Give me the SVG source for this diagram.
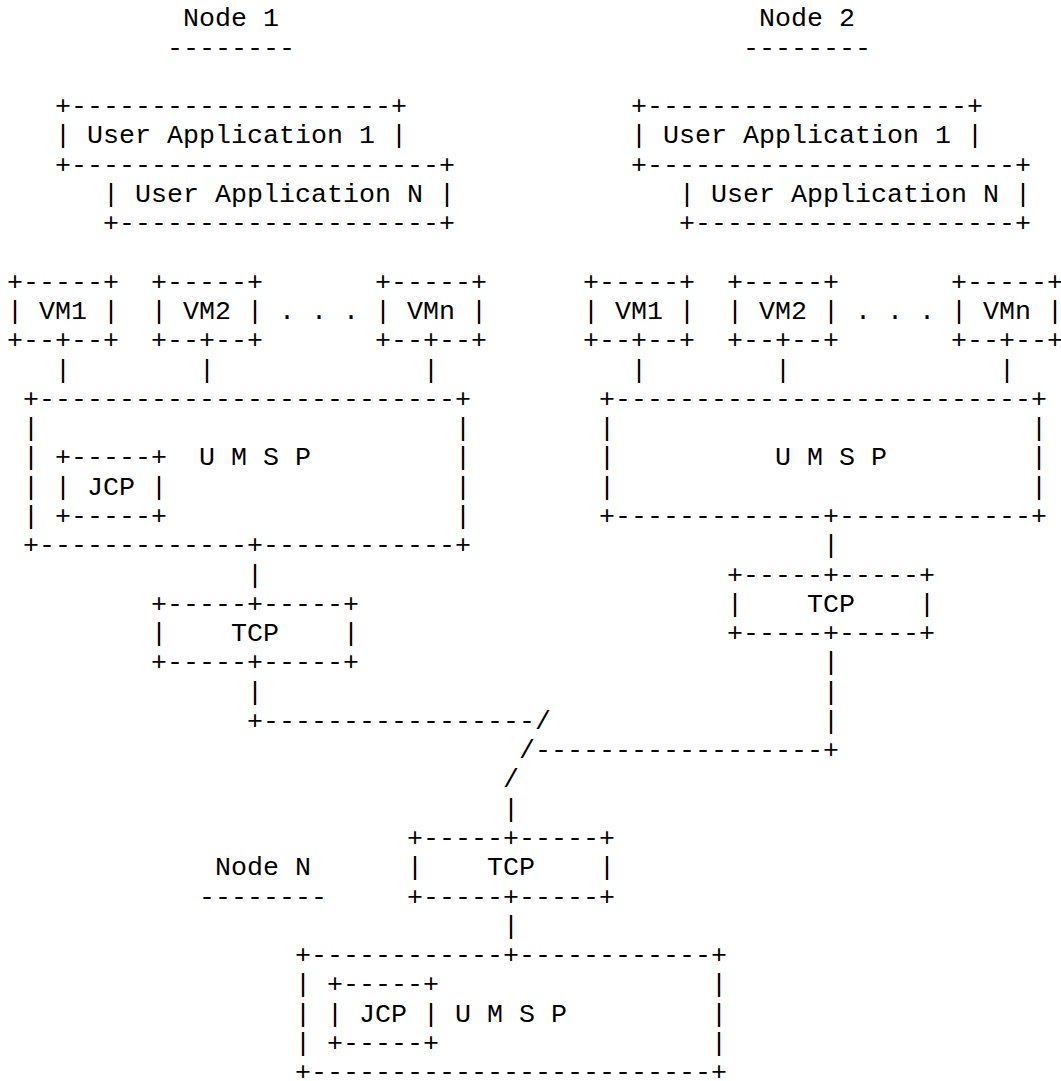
<svg xmlns="http://www.w3.org/2000/svg" width="1061" height="1081" viewBox="0 0 1061 1081" xml:space="preserve">
<style>
text { font-family: "Liberation Mono", "Courier New", monospace; font-size: 26.667px; fill: #000; white-space: pre; }
</style>
<rect width="1061" height="1081" fill="#fff"/>
<g id="node1-label">
<text x="183" y="26.4">Node 1</text>
<text x="167" y="55.67">--------</text>
</g>
<g id="node1-apps">
<text x="55" y="114.21">+--------------------+</text>
<text x="55" y="143.48">| User Application 1 |</text>
<text x="55" y="172.75">+-----------------------+</text>
<text x="103" y="202.02">| User Application N |</text>
<text x="103" y="231.29">+--------------------+</text>
</g>
<g id="node1-vm1">
<text x="7" y="289.83">+-----+</text>
<text x="7" y="319.1">| VM1 |</text>
<text x="7" y="348.37">+--+--+</text>
</g>
<g id="node1-vm2">
<text x="151" y="289.83">+-----+</text>
<text x="151" y="319.1">| VM2 |</text>
<text x="151" y="348.37">+--+--+</text>
</g>
<g id="node1-dots"><text x="279" y="319.1">. . .</text></g>
<g id="node1-vmn">
<text x="375" y="289.83">+-----+</text>
<text x="375" y="319.1">| VMn |</text>
<text x="375" y="348.37">+--+--+</text>
</g>
<g id="node1-umsp">
<text x="23" y="406.91">+--------------------------+</text>
<text x="23" y="436.18">|</text><text x="455" y="436.18">|</text>
<text x="23" y="465.45">|</text><text x="199" y="465.45">U M S P</text><text x="455" y="465.45">|</text>
<text x="23" y="494.72">|</text><text x="455" y="494.72">|</text>
<text x="23" y="523.99">|</text><text x="455" y="523.99">|</text>
<text x="23" y="553.26">+-------------+------------+</text>
</g>
<g id="node1-jcp">
<text x="55" y="465.45">+-----+</text>
<text x="55" y="494.72">| JCP |</text>
<text x="55" y="523.99">+-----+</text>
</g>
<g id="node1-tcp">
<text x="151" y="611.8">+-----+-----+</text>
<text x="151" y="641.07">|    TCP    |</text>
<text x="151" y="670.34">+-----+-----+</text>
</g>
<g id="node2-label">
<text x="759" y="26.4">Node 2</text>
<text x="743" y="55.67">--------</text>
</g>
<g id="node2-apps">
<text x="631" y="114.21">+--------------------+</text>
<text x="631" y="143.48">| User Application 1 |</text>
<text x="631" y="172.75">+-----------------------+</text>
<text x="679" y="202.02">| User Application N |</text>
<text x="679" y="231.29">+--------------------+</text>
</g>
<g id="node2-vm1">
<text x="583" y="289.83">+-----+</text>
<text x="583" y="319.1">| VM1 |</text>
<text x="583" y="348.37">+--+--+</text>
</g>
<g id="node2-vm2">
<text x="727" y="289.83">+-----+</text>
<text x="727" y="319.1">| VM2 |</text>
<text x="727" y="348.37">+--+--+</text>
</g>
<g id="node2-dots"><text x="855" y="319.1">. . .</text></g>
<g id="node2-vmn">
<text x="951" y="289.83">+-----+</text>
<text x="951" y="319.1">| VMn |</text>
<text x="951" y="348.37">+--+--+</text>
</g>
<g id="node2-umsp">
<text x="599" y="406.91">+--------------------------+</text>
<text x="599" y="436.18">|</text><text x="1031" y="436.18">|</text>
<text x="599" y="465.45">|</text><text x="775" y="465.45">U M S P</text><text x="1031" y="465.45">|</text>
<text x="599" y="494.72">|</text><text x="1031" y="494.72">|</text>
<text x="599" y="523.99">+-------------+------------+</text>
</g>
<g id="node2-tcp">
<text x="727" y="582.53">+-----+-----+</text>
<text x="727" y="611.8">|    TCP    |</text>
<text x="727" y="641.07">+-----+-----+</text>
</g>
<g id="nodeN-label">
<text x="215" y="875.23">Node N</text>
<text x="199" y="904.5">--------</text>
</g>
<g id="nodeN-tcp">
<text x="407" y="845.96">+-----+-----+</text>
<text x="407" y="875.23">|    TCP    |</text>
<text x="407" y="904.5">+-----+-----+</text>
</g>
<g id="nodeN-umsp">
<text x="295" y="963.04">+------------+------------+</text>
<text x="295" y="992.31">|</text><text x="711" y="992.31">|</text>
<text x="295" y="1021.58">|</text><text x="455" y="1021.58">U M S P</text><text x="711" y="1021.58">|</text>
<text x="295" y="1050.85">|</text><text x="711" y="1050.85">|</text>
<text x="295" y="1080.12">+-------------------------+</text>
</g>
<g id="nodeN-jcp">
<text x="327" y="992.31">+-----+</text>
<text x="327" y="1021.58">| JCP |</text>
<text x="327" y="1050.85">+-----+</text>
</g>
<g id="connectors">
<text x="55" y="377.64">|</text>
<text x="199" y="377.64">|</text>
<text x="423" y="377.64">|</text>
<text x="247" y="582.53">|</text>
<text x="247" y="699.61">|</text>
<text x="247" y="728.88">+-----------------/</text>
<text x="631" y="377.64">|</text>
<text x="775" y="377.64">|</text>
<text x="999" y="377.64">|</text>
<text x="823" y="553.26">|</text>
<text x="823" y="670.34">|</text>
<text x="823" y="699.61">|</text>
<text x="823" y="728.88">|</text>
<text x="519" y="758.15">/------------------+</text>
<text x="503" y="787.42">/</text>
<text x="503" y="816.69">|</text>
<text x="503" y="933.77">|</text>
</g>
</svg>
